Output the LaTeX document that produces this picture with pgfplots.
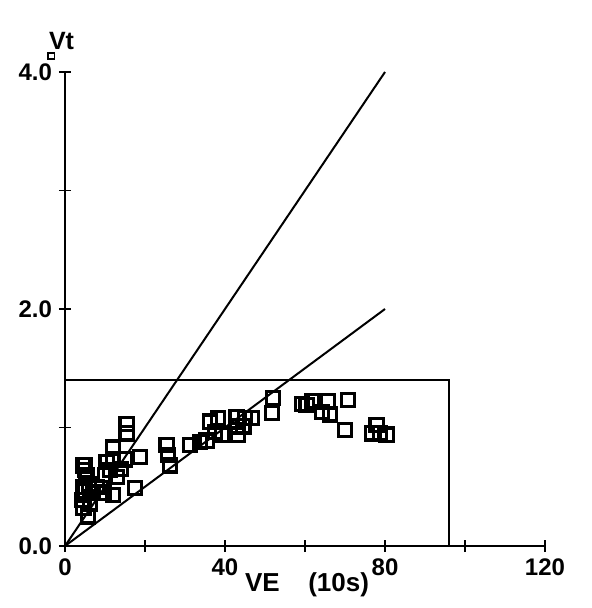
\documentclass[border=0pt]{standalone}
\usepackage{pgfplots}
\pgfplotsset{compat=1.18}
\usepackage{fontspec}
\setmainfont{Liberation Sans}
\begin{document}
\begin{tikzpicture}
\path[use as bounding box] (-32.5pt,-31pt) rectangle (263pt,273pt);
\begin{axis}[
  scale only axis, width=240pt, height=237pt,
  xmin=0, xmax=120, ymin=0, ymax=4,
  axis lines=left, axis line style={-, line width=1.3pt},
  tick align=center, major tick length=6pt,
  tick style={line width=0.9pt, black},
  xtick={0,20,40,60,80,100,120}, xticklabels={0,,40,,80,,120},
  ytick={0,1,2,3,4}, yticklabels={0.0,,2.0,,4.0},
  tick label style={font=\fontsize{12}{14}\selectfont\bfseries},
  /pgf/number format/assume math mode=true,
  clip=false,
  xlabel={VE\hspace{1.1em}(10s)},
  ylabel={\rlap{\hspace{-1pt}\raisebox{-4.2pt}{\setlength\fboxsep{0pt}\setlength\fboxrule{0.9pt}\fbox{\rule{2.4pt}{0pt}\rule{0pt}{2.4pt}}}}Vt},
  every axis x label/.style={at={(axis description cs:0.5,0)}, anchor=north, xshift=1pt, yshift=-10pt, font=\fontsize{13}{15}\selectfont\bfseries},
  every axis y label/.style={at={(axis description cs:0,1)}, anchor=base west, xshift=-11.5pt, yshift=11pt, font=\fontsize{12.5}{14}\selectfont\bfseries},
]
\addplot[black, line width=1pt] coordinates {(0,0) (80,4)};
\addplot[black, line width=1pt] coordinates {(0,0) (80,2)};
\addplot[black, line width=0.8pt] coordinates {(0,1.4) (96,1.4) (96,0)};
\addplot[only marks, mark=square, mark size=3.3pt, mark options={line width=1.6pt, black}] coordinates {
(4.5,0.68) (5,0.68) (5.4,0.60) (5,0.64)
(4.2,0.39) (4.6,0.32) (5.8,0.25) (6.25,0.36) (5,0.46) (7,0.45) (9.6,0.45) (12,0.43) (4.5,0.50) (6,0.52) (8,0.50)
(10.4,0.71) (12,0.73) (15,0.73) (18.75,0.75) (11.25,0.64) (12.9,0.58) (12,0.83) (15.4,1.03) (15.4,0.95) (17.5,0.49) (14,0.65) (10,0.60)
(25.4,0.85) (25.8,0.77) (26.25,0.68) (31.25,0.85) (33.75,0.88) (35.4,0.89) (36.25,1.05) (38.3,1.08) (37.5,0.96) (39.2,0.94)
(42.9,1.09) (45,1.08) (46.7,1.08) (42.9,1.01) (43.3,0.94) (44.6,1.01) (52,1.25) (51.7,1.12)
(59.2,1.20) (61.7,1.22) (60.4,1.19) (65.8,1.22) (70.8,1.23) (64.2,1.13) (66.25,1.11) (70,0.98)
(77.9,1.02) (76.7,0.95) (78.75,0.95) (80.4,0.94)
};
\end{axis}
\end{tikzpicture}
\end{document}
